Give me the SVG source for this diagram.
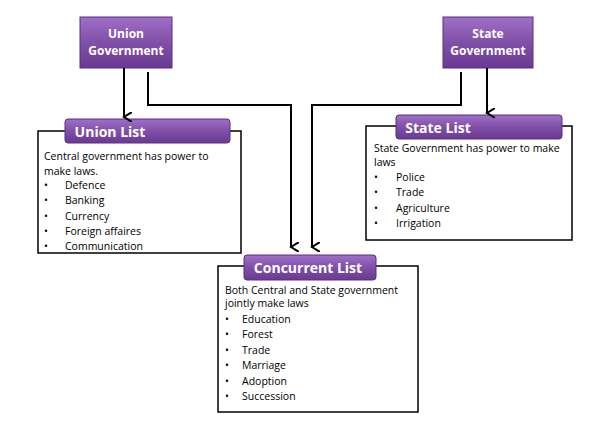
<svg xmlns="http://www.w3.org/2000/svg" width="602" height="424" viewBox="0 0 602 424">
<defs>
<linearGradient id="pg" x1="0" y1="0" x2="0" y2="1"><stop offset="0" stop-color="#a070c8"/><stop offset="0.5" stop-color="#8050a8"/><stop offset="1" stop-color="#6a3a92"/></linearGradient>
<marker id="ah" markerWidth="10" markerHeight="10" refX="5" refY="8" orient="auto" markerUnits="userSpaceOnUse" viewBox="0 0 10 10"><path d="M0,0 L5,8 L10,0" fill="none" stroke="#000" stroke-width="2"/></marker>
</defs>
<style>
.pb{fill:url(#pg);stroke:#5a2e80;stroke-width:1}
.box{fill:#fff;stroke:#000;stroke-width:1.5}
.ht{font-family:"Open Sans","Liberation Sans",sans-serif;font-weight:bold;fill:#fff;text-anchor:middle}
.t{font-family:"Open Sans","Liberation Sans",sans-serif;font-size:10.5px;fill:#000}
.c{fill:none;stroke:#000;stroke-width:2}
</style>
<rect width="602" height="424" fill="#fff"/>
<g id="union-list">
<rect class="box" x="38" y="131" width="203" height="122"/>
<rect class="pb" x="65" y="119" width="165" height="24" rx="3"/>
<text class="ht" x="110" y="137" font-size="14" text-anchor="start">Union List</text>
<text class="t" x="44" y="160">Central government has power to</text>
<text class="t" x="44" y="175">make laws.</text>
<text class="t" x="44" y="189">•</text><text class="t" x="65" y="189">Defence</text>
<text class="t" x="44" y="204">•</text><text class="t" x="65" y="204">Banking</text>
<text class="t" x="44" y="220">•</text><text class="t" x="65" y="220">Currency</text>
<text class="t" x="44" y="235">•</text><text class="t" x="65" y="235">Foreign affaires</text>
<text class="t" x="44" y="250">•</text><text class="t" x="65" y="250">Communication</text>
</g>
<g id="state-list">
<rect class="box" x="366" y="126" width="206" height="114"/>
<rect class="pb" x="396" y="115" width="166" height="24" rx="3"/>
<text class="ht" x="438" y="133" font-size="14" text-anchor="start">State List</text>
<text class="t" x="374" y="152">State Government has power to make</text>
<text class="t" x="374" y="166">laws</text>
<text class="t" x="374" y="181">•</text><text class="t" x="396" y="181">Police</text>
<text class="t" x="374" y="196">•</text><text class="t" x="396" y="196">Trade</text>
<text class="t" x="374" y="212">•</text><text class="t" x="396" y="212">Agriculture</text>
<text class="t" x="374" y="227">•</text><text class="t" x="396" y="227">Irrigation</text>
</g>
<g id="concurrent-list">
<rect class="box" x="218" y="266" width="200" height="146"/>
<rect class="pb" x="244" y="255" width="132" height="25" rx="3"/>
<text class="ht" x="308" y="273" font-size="14">Concurrent List</text>
<text class="t" x="225" y="294">Both Central and State government</text>
<text class="t" x="225" y="307">jointly make laws</text>
<text class="t" x="225" y="323">•</text><text class="t" x="242" y="323">Education</text>
<text class="t" x="225" y="338">•</text><text class="t" x="242" y="338">Forest</text>
<text class="t" x="225" y="354">•</text><text class="t" x="242" y="354">Trade</text>
<text class="t" x="225" y="369">•</text><text class="t" x="242" y="369">Marriage</text>
<text class="t" x="225" y="385">•</text><text class="t" x="242" y="385">Adoption</text>
<text class="t" x="225" y="400">•</text><text class="t" x="242" y="400">Succession</text>
</g>
<g id="union-gov">
<rect class="pb" x="80" y="17" width="92" height="51"/>
<text class="ht" x="126" y="38" font-size="12">Union</text>
<text class="ht" x="126" y="55" font-size="12">Government</text>
</g>
<g id="state-gov">
<rect class="pb" x="443" y="17" width="90" height="51"/>
<text class="ht" x="488" y="38" font-size="12">State</text>
<text class="ht" x="488" y="55" font-size="12">Government</text>
</g>
<g id="connectors">
<path class="c" d="M124,68 V117" marker-end="url(#ah)"/>
<path class="c" d="M148,72 V105 H291 V247" marker-end="url(#ah)"/>
<path class="c" d="M461,72 V105 H312 V247" marker-end="url(#ah)"/>
<path class="c" d="M487,68 V113" marker-end="url(#ah)"/>
</g>
</svg>
